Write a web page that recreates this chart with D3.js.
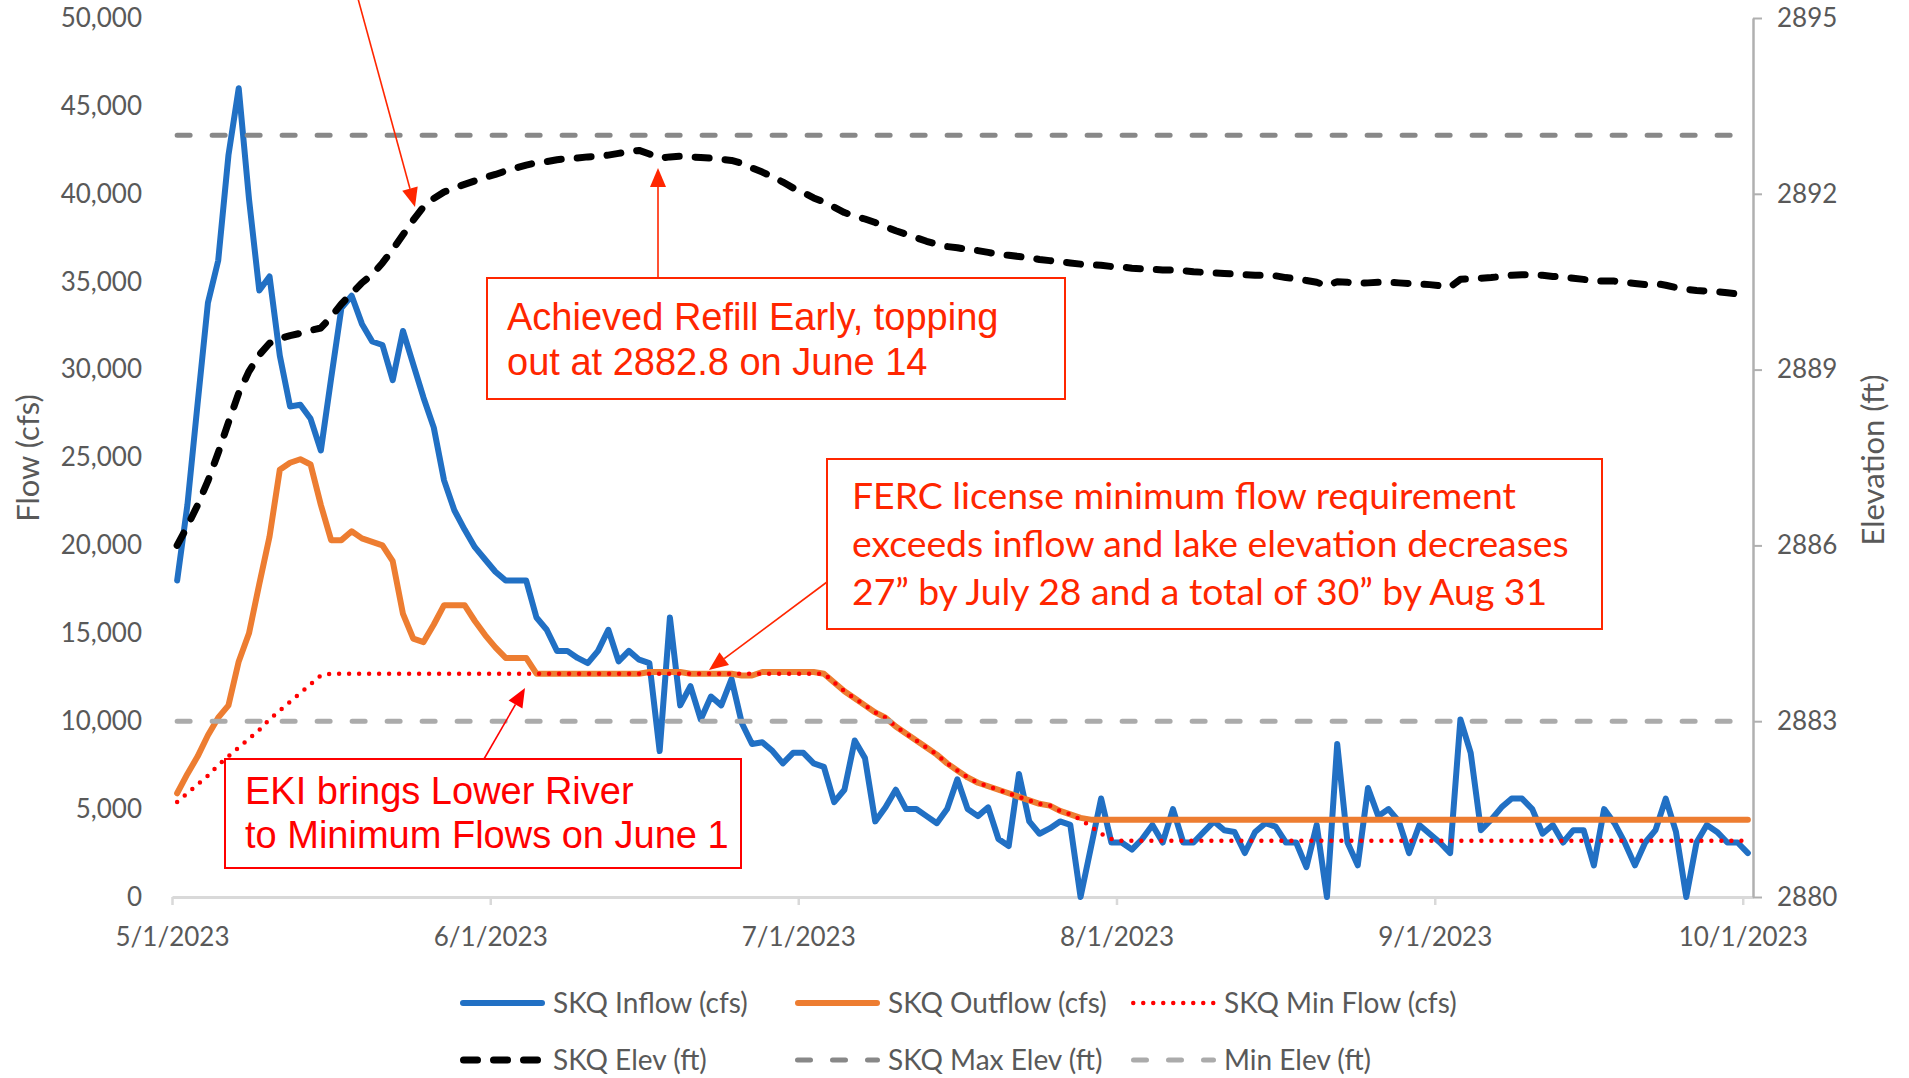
<!DOCTYPE html>
<html>
<head>
<meta charset="utf-8">
<script src="https://cdnjs.cloudflare.com/ajax/libs/d3/7.8.5/d3.min.js"></script>
<style>
  body { margin: 0; background: #fff; }
  svg { display: block; font-family: Lato, sans-serif; }
</style>
</head>
<body>
<svg id="chart" width="1909" height="1078"></svg>
<script>
// daily series, 5/1/2023 .. 10/1/2023 (154 days)
var startDate = "2023-05-01";

var inflow = [
  18000, 22300, 28100, 33800, 36200, 42200, 46000, 39700, 34500, 35300,
  30800, 27900, 28000, 27200, 25400, 29500, 33500, 34200, 32600, 31600,
  31400, 29400, 32200, 30300, 28400, 26700, 23700, 22000, 20900, 19900,
  19200, 18500, 18000, 18000, 18000, 15900, 15200, 14000, 14000, 13600,
  13300, 14000, 15200, 13400, 14000, 13500, 13300, 8300, 15900, 10900,
  12000, 10100, 11400, 10900, 12400, 9900, 8700, 8800, 8300, 7600,
  8200, 8200, 7600, 7400, 5400, 6100, 8900, 7900, 4300, 5100,
  6100, 5000, 5000, 4600, 4200, 5000, 6700, 5000, 4600, 5100,
  3300, 2900, 7000, 4300, 3600, 3900, 4300, 4100, 0, 2800,
  5600, 3100, 3100, 2700, 3300, 4100, 3100, 5000, 3100, 3100,
  3700, 4300, 3800, 3700, 2500, 3700, 4200, 4000, 3100, 3100,
  1700, 4100, 0, 8700, 3100, 1800, 6200, 4600, 5000, 4300,
  2500, 4100, 3600, 3100, 2500, 10100, 8200, 3800, 4400, 5100,
  5600, 5600, 5000, 3600, 4100, 3100, 3800, 3800, 1800, 5000,
  4200, 3100, 1800, 3100, 3800, 5600, 3700, 0, 3100, 4100,
  3700, 3100, 3100, 2500
];

var outflow = [
  5900, 7000, 8000, 9200, 10200, 10900, 13400, 15000, 17800, 20500,
  24300, 24700, 24900, 24600, 22300, 20300, 20300, 20800, 20400, 20200,
  20000, 19100, 16100, 14700, 14500, 15500, 16600, 16600, 16600, 15700,
  14900, 14200, 13600, 13600, 13600, 12700, 12700, 12700, 12700, 12700,
  12700, 12700, 12700, 12700, 12700, 12700, 12800, 12800, 12800, 12800,
  12700, 12700, 12700, 12700, 12700, 12600, 12600, 12800, 12800, 12800,
  12800, 12800, 12800, 12700, 12200, 11700, 11300, 10900, 10500, 10200,
  9700, 9300, 8900, 8500, 8100, 7600, 7200, 6800, 6500, 6300,
  6100, 5900, 5700, 5500, 5300, 5200, 4900, 4700, 4500, 4400,
  4400, 4400, 4400, 4400, 4400, 4400, 4400, 4400, 4400, 4400,
  4400, 4400, 4400, 4400, 4400, 4400, 4400, 4400, 4400, 4400,
  4400, 4400, 4400, 4400, 4400, 4400, 4400, 4400, 4400, 4400,
  4400, 4400, 4400, 4400, 4400, 4400, 4400, 4400, 4400, 4400,
  4400, 4400, 4400, 4400, 4400, 4400, 4400, 4400, 4400, 4400,
  4400, 4400, 4400, 4400, 4400, 4400, 4400, 4400, 4400, 4400,
  4400, 4400, 4400, 4400
];

var minFlow = [
  5400, 5900, 6400, 6900, 7500, 8000, 8500, 9000, 9500, 10100,
  10600, 11100, 11600, 12100, 12600, 12700, 12700, 12700, 12700, 12700,
  12700, 12700, 12700, 12700, 12700, 12700, 12700, 12700, 12700, 12700,
  12700, 12700, 12700, 12700, 12700, 12700, 12700, 12700, 12700, 12700,
  12700, 12700, 12700, 12700, 12700, 12700, 12700, 12700, 12700, 12700,
  12700, 12700, 12700, 12700, 12700, 12700, 12700, 12700, 12700, 12700,
  12700, 12700, 12700, 12700, 12200, 11700, 11300, 10900, 10500, 10200,
  9700, 9300, 8900, 8500, 8100, 7600, 7200, 6800, 6500, 6300,
  6100, 5900, 5700, 5500, 5300, 5200, 4900, 4700, 4400, 4000,
  3600, 3300, 3200, 3200, 3200, 3200, 3200, 3200, 3200, 3200,
  3200, 3200, 3200, 3200, 3200, 3200, 3200, 3200, 3200, 3200,
  3200, 3200, 3200, 3200, 3200, 3200, 3200, 3200, 3200, 3200,
  3200, 3200, 3200, 3200, 3200, 3200, 3200, 3200, 3200, 3200,
  3200, 3200, 3200, 3200, 3200, 3200, 3200, 3200, 3200, 3200,
  3200, 3200, 3200, 3200, 3200, 3200, 3200, 3200, 3200, 3200,
  3200, 3200, 3200, 3200
];

var elev = [
  2886.00, 2886.33, 2886.69, 2887.10, 2887.58, 2888.10, 2888.60, 2888.97, 2889.25, 2889.45,
  2889.53, 2889.58, 2889.62, 2889.67, 2889.71, 2889.90, 2890.12, 2890.30, 2890.48, 2890.62,
  2890.82, 2891.05, 2891.30, 2891.55, 2891.78, 2891.92, 2892.03, 2892.10, 2892.16, 2892.22,
  2892.28, 2892.33, 2892.39, 2892.44, 2892.49, 2892.53, 2892.55, 2892.58, 2892.60, 2892.61,
  2892.63, 2892.64, 2892.66, 2892.69, 2892.72, 2892.74, 2892.68, 2892.61, 2892.63, 2892.64,
  2892.63, 2892.62, 2892.61, 2892.59, 2892.57, 2892.52, 2892.44, 2892.37, 2892.29, 2892.20,
  2892.10, 2892.02, 2891.93, 2891.86, 2891.77, 2891.68, 2891.62, 2891.57, 2891.51, 2891.44,
  2891.37, 2891.31, 2891.25, 2891.19, 2891.14, 2891.10, 2891.08, 2891.05, 2891.03, 2891.00,
  2890.97, 2890.95, 2890.93, 2890.91, 2890.88, 2890.86, 2890.84, 2890.82, 2890.80, 2890.79,
  2890.78, 2890.76, 2890.75, 2890.73, 2890.72, 2890.71, 2890.70, 2890.70, 2890.69, 2890.67,
  2890.66, 2890.65, 2890.64, 2890.63, 2890.62, 2890.61, 2890.61, 2890.60, 2890.57, 2890.55,
  2890.52, 2890.49, 2890.43, 2890.50, 2890.49, 2890.47, 2890.48, 2890.49, 2890.49, 2890.48,
  2890.47, 2890.46, 2890.45, 2890.43, 2890.41, 2890.54, 2890.55, 2890.56, 2890.57, 2890.59,
  2890.61, 2890.62, 2890.62, 2890.61, 2890.59, 2890.58, 2890.56, 2890.54, 2890.51, 2890.51,
  2890.51, 2890.49, 2890.47, 2890.45, 2890.47, 2890.44, 2890.40, 2890.37, 2890.35, 2890.34,
  2890.33, 2890.31, 2890.29, 2890.26
];

var maxElev = 2893;
var minElev = 2883;

var flowTicks = [0, 5000, 10000, 15000, 20000, 25000, 30000, 35000, 40000, 45000, 50000];
var elevTicks = [2880, 2883, 2886, 2889, 2892, 2895];
var dateTicks = ["2023-05-01", "2023-06-01", "2023-07-01", "2023-08-01", "2023-09-01", "2023-10-01"];

var legendItems = [
  { key: "inflow", label: "SKQ Inflow (cfs)" },
  { key: "outflow", label: "SKQ Outflow (cfs)" },
  { key: "minFlow", label: "SKQ Min Flow (cfs)" },
  { key: "elev", label: "SKQ Elev (ft)" },
  { key: "maxElev", label: "SKQ Max Elev (ft)" },
  { key: "minElev", label: "Min Elev (ft)" }
];

var styles = {
  inflow:  { color: "#2170c4", width: 6, dash: null },
  outflow: { color: "#ed7d31", width: 6, dash: null },
  minFlow: { color: "#ff0000", width: 4.5, dash: "0,10" },
  elev:    { color: "#000000", width: 7, dash: "14,16" },
  maxElev: { color: "#888888", width: 5, dash: "13,22" },
  minElev: { color: "#ababab", width: 5, dash: "13,22" }
};

var labelColor = "#595959";
var svg = d3.select("#chart");

var plot = { left: 172, right: 1753, top: 18, bottom: 897 };

var parseDay = d3.timeParse("%Y-%m-%d");
var start = parseDay(startDate);
var days = d3.range(inflow.length).map(function (i) { return d3.timeDay.offset(start, i); });

// date axis, each day sits in the middle of its slot
var x = d3.scaleTime()
  .domain([start, d3.timeDay.offset(start, days.length)])
  .range([plot.left, plot.right]);
var yFlow = d3.scaleLinear().domain([0, 50000]).range([plot.bottom, plot.top]);
var yElev = d3.scaleLinear().domain([2880, 2895]).range([plot.bottom, plot.top]);

function xMid(d) { return x(d3.timeHour.offset(d, 12)); }

// x axis
var gx = svg.append("g")
  .attr("transform", "translate(0," + plot.bottom + ")")
  .call(d3.axisBottom(x)
    .tickValues(dateTicks.map(parseDay))
    .tickFormat(d3.timeFormat("%-m/%-d/%Y"))
    .tickSize(8).tickSizeOuter(0).tickPadding(23));
gx.select(".domain").attr("stroke", "#d9d9d9").attr("stroke-width", 3);
gx.selectAll(".tick line").attr("stroke", "#d9d9d9").attr("stroke-width", 2.5);
gx.selectAll(".tick text").attr("fill", labelColor).style("font-size", "26px").style("font-family", "Lato");

// left axis
var gy = svg.append("g")
  .attr("transform", "translate(" + plot.left + ",0)")
  .call(d3.axisLeft(yFlow).tickValues(flowTicks).tickFormat(d3.format(",")).tickSize(0).tickPadding(30));
gy.select(".domain").remove();
gy.selectAll(".tick text").attr("fill", labelColor).style("font-size", "26px").style("font-family", "Lato");

// right axis
var gy2 = svg.append("g")
  .attr("transform", "translate(" + plot.right + ",0)")
  .call(d3.axisRight(yElev).tickValues(elevTicks).tickFormat(d3.format("d")).tickSize(9).tickSizeOuter(0).tickPadding(15));
gy2.select(".domain").attr("stroke", "#b0b0b0").attr("stroke-width", 2.5);
gy2.selectAll(".tick line").attr("stroke", "#b0b0b0").attr("stroke-width", 2);
gy2.selectAll(".tick text").attr("fill", labelColor).style("font-size", "26px").style("font-family", "Lato");

// axis titles
svg.append("text")
  .attr("transform", "translate(39,458) rotate(-90)")
  .attr("text-anchor", "middle")
  .attr("fill", labelColor)
  .style("font-size", "31px")
  .text("Flow (cfs)");
svg.append("text")
  .attr("transform", "translate(1884,460) rotate(-90)")
  .attr("text-anchor", "middle")
  .attr("fill", labelColor)
  .style("font-size", "31px")
  .text("Elevation (ft)");

// series
function drawSeries(values, scale, st) {
  var line = d3.line()
    .x(function (d, i) { return xMid(days[i]); })
    .y(function (d) { return scale(d); });
  var p = svg.append("path")
    .datum(values)
    .attr("d", line)
    .attr("fill", "none")
    .attr("stroke", st.color)
    .attr("stroke-width", st.width)
    .attr("stroke-linejoin", "round")
    .attr("stroke-linecap", "round");
  if (st.dash) p.attr("stroke-dasharray", st.dash);
}

drawSeries(inflow, yFlow, styles.inflow);
drawSeries(outflow, yFlow, styles.outflow);
drawSeries(minFlow, yFlow, styles.minFlow);
drawSeries(elev, yElev, styles.elev);
drawSeries(days.map(function () { return maxElev; }), yElev, styles.maxElev);
drawSeries(days.map(function () { return minElev; }), yElev, styles.minElev);

// annotations
function arrow(x1, y1, x2, y2, color) {
  var dx = x2 - x1, dy = y2 - y1, len = Math.sqrt(dx * dx + dy * dy);
  var ux = dx / len, uy = dy / len;
  var hl = 19, hw = 8;
  var bx = x2 - ux * hl, by = y2 - uy * hl;
  svg.append("line")
    .attr("x1", x1).attr("y1", y1).attr("x2", bx).attr("y2", by)
    .attr("stroke", color).attr("stroke-width", 1.6);
  svg.append("path")
    .attr("d", "M" + x2 + "," + y2 + "L" + (bx - uy * hw) + "," + (by + ux * hw) +
      "L" + (bx + uy * hw) + "," + (by - ux * hw) + "Z")
    .attr("fill", color);
}

function box(bx, by, bw, bh, color, lines, tx, baselines, font, size) {
  svg.append("rect")
    .attr("x", bx).attr("y", by).attr("width", bw).attr("height", bh)
    .attr("fill", "#fff").attr("stroke", color).attr("stroke-width", 2);
  var t = svg.append("text")
    .attr("fill", color)
    .style("font-family", font)
    .style("font-size", size + "px");
  lines.forEach(function (s, i) {
    t.append("tspan").attr("x", tx).attr("y", baselines[i]).text(s);
  });
  return t;
}

arrow(357, -5, 415, 207, "#ff2600");
arrow(658, 278, 658, 168, "#ff2600");
arrow(484, 759, 525, 688, "#ff0000");
arrow(827, 582, 709, 670, "#ff2600");

box(487, 278, 578, 121, "#ff2600",
  ["Achieved Refill Early, topping", "out at 2882.8 on June 14"],
  507, [330, 375], "Liberation Sans", 38);

var ferc = box(827, 459, 775, 170, "#ff2600",
  ["FERC license minimum flow requirement",
   "exceeds inflow and lake elevation decreases",
   "27\u201D by July 28 and a total of 30\u201D by Aug 31"],
  852, [509, 557, 605], "Lato", 40);
// fit the Calibri-like text to the width it has in the picture
var w2 = ferc.selectAll("tspan").nodes()[1].getComputedTextLength();
ferc.style("font-size", (40 * 717 / w2) + "px");

box(225, 759, 516, 109, "#ff0000",
  ["EKI brings Lower River", "to Minimum Flows on June 1"],
  245, [804, 848], "Liberation Sans", 38);

// legend
var legendX = [460, 795, 1131];
var legendY = [1003, 1060];
legendItems.forEach(function (item, i) {
  var st = styles[item.key];
  var lx = legendX[i % 3], ly = legendY[Math.floor(i / 3)];
  var l = svg.append("line")
    .attr("x1", lx + st.width / 2).attr("x2", lx + 85 - st.width / 2)
    .attr("y1", ly).attr("y2", ly)
    .attr("stroke", st.color).attr("stroke-width", st.width)
    .attr("stroke-linecap", "round");
  if (st.dash) l.attr("stroke-dasharray", st.dash);
  svg.append("text")
    .attr("x", lx + 93).attr("y", ly)
    .attr("dy", "0.35em")
    .attr("fill", labelColor)
    .style("font-size", "28px")
    .text(item.label);
});
</script>
</body>
</html>
